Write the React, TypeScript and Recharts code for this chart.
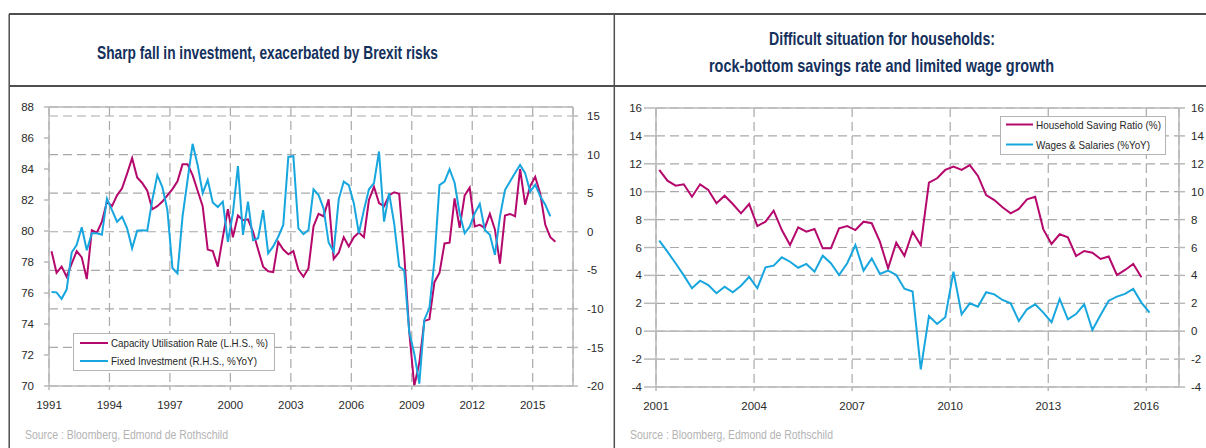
import React from 'react';
import { LineChart, Line, XAxis, YAxis, CartesianGrid, ReferenceLine, Legend } from 'recharts';

// ---------- Data: left chart (quarterly from 1991 Q1) ----------
const capacityUtilisation = [
  78.7, 77.3, 77.7, 77.05, 77.9, 78.7, 78.3, 76.9, 80.05, 79.9, 80.6, 81.9, 81.6, 82.3, 82.75, 83.7,
  84.7, 83.45, 83.1, 82.6, 81.4, 81.6, 81.9, 82.3, 82.7, 83.2, 84.3, 84.3, 83.6, 82.6, 81.6, 78.8,
  78.7, 77.7, 79.6, 81.4, 79.6, 81.0, 80.7, 80.75, 79.95, 78.8, 77.7, 77.4, 77.35, 79.3, 78.8, 78.5,
  78.7, 77.5, 77.05, 77.6, 80.3, 81.1, 80.95, 82.05, 78.2, 78.6, 79.6, 79.0, 79.6, 79.9, 79.6, 82.0,
  82.85, 81.8, 81.6, 82.3, 82.5, 82.4, 78.5, 73.5, 70.0, 71.5, 74.2, 74.3, 76.7, 77.3, 79.2, 79.25,
  82.1, 80.2, 82.3, 82.8, 80.3, 80.4, 80.2, 81.1, 80.1, 77.9, 81.0, 81.1, 80.95, 84.0, 81.7, 82.9,
  83.5, 82.4, 80.4, 79.6, 79.3,
];
const fixedInvestment = [
  -7.8, -7.86, -8.7, -7.5, -2.7, -1.7, 0.57, -2.4, -0.2, -0.2, -0.4, 4.3, 2.8, 1.3, 1.95, 0.44,
  -2.15, 0.13, 0.2, 0.13, 4.1, 7.35, 5.8, 2.8, -4.7, -5.4, 1.95, 6.7, 11.4, 8.65, 5.0, 6.7,
  3.8, 3.2, 3.9, -1.3, 2.4, 8.5, -0.4, 3.9, -1.1, -0.85, 2.8, -2.8, -1.9, -0.65, 0.87, 9.7,
  9.8, 0.44, -0.3, 0.22, 5.5, 4.76, 3.0, -1.4, -2.6, 4.2, 6.5, 6.05, 3.7, -0.2, 2.8, 5.5,
  6.3, 10.4, 1.3, 5.0, 1.1, -4.5, -5.0, -13.0, -15.8, -19.7, -11.4, -9.9, -3.7, 6.05, 6.5, 8.1,
  6.35, 2.4, -0.2, 0.65, 2.4, 3.6, 0.22, -0.4, -3.0, 1.95, 5.4, 6.5, 7.6, 8.65, 7.6, 5.2,
  6.1, 4.6, 3.5, 2.0,
];
const leftStartYear = 1991;
const leftXTicks = [1991, 1994, 1997, 2000, 2003, 2006, 2009, 2012, 2015];
const leftYTicks = [70, 72, 74, 76, 78, 80, 82, 84, 86, 88];
const rightYTicks = [-20, -15, -10, -5, 0, 5, 10, 15];

// ---------- Data: right chart (quarterly from 2001 Q1) ----------
const householdSaving = [
  11.56, 10.79, 10.43, 10.53, 9.64, 10.53, 10.12, 9.17, 9.71, 9.12, 8.45, 9.12, 7.54, 7.85, 8.64, 7.25,
  6.18, 7.45, 7.13, 7.33, 5.94, 5.94, 7.38, 7.54, 7.25, 7.85, 7.74, 6.42, 4.51, 6.35, 5.4, 7.13,
  6.18, 10.65, 10.96, 11.56, 11.8, 11.56, 11.91, 11.13, 9.76, 9.4, 8.88, 8.45, 8.76, 9.45, 9.64, 7.3,
  6.25, 6.95, 6.73, 5.39, 5.75, 5.63, 5.18, 5.35, 4.03, 4.39, 4.82, 3.86,
];
const wagesSalaries = [
  6.49, 5.7, 4.87, 4.0, 3.08, 3.62, 3.31, 2.72, 3.19, 2.79, 3.26, 3.9, 3.08, 4.58, 4.7, 5.3,
  4.98, 4.55, 4.82, 4.27, 5.41, 4.87, 4.03, 4.87, 6.18, 4.34, 5.22, 4.1, 4.34, 4.03, 3.05, 2.84,
  -2.73, 1.09, 0.52, 1.0, 4.27, 1.21, 2.0, 1.76, 2.79, 2.64, 2.24, 2.0, 0.73, 1.57, 1.93, 1.33,
  0.64, 2.31, 0.85, 1.23, 1.93, 0.09, 1.16, 2.19, 2.48, 2.67, 3.03, 2.05, 1.33,
];
const rightStartYear = 2001;
const householdXTicks = [2001, 2004, 2007, 2010, 2013, 2016];
const householdYTicks = [-4, -2, 0, 2, 4, 6, 8, 10, 12, 14, 16];

// ---------- Texts ----------
const leftTitle = 'Sharp fall in investment, exacerbated by Brexit risks';
const rightTitle1 = 'Difficult situation for households:';
const rightTitle2 = 'rock-bottom savings rate and limited wage growth';
const sourceText = 'Source : Bloomberg, Edmond de Rothschild';
const capName = 'Capacity Utilisation Rate (L.H.S., %)';
const invName = 'Fixed Investment (R.H.S., %YoY)';
const savName = 'Household Saving Ratio (%)';
const wageName = 'Wages & Salaries (%YoY)';

// ---------- Styles ----------
const FONT = '"Liberation Sans", Arial, sans-serif';
const NARROW = '"Liberation Sans Narrow", "Liberation Sans", Arial, sans-serif';
const NAVY = '#14305c';
const MAGENTA = '#b5086c';
const CYAN = '#17a6de';
const GRID = '#a9a9a9';
const AXIS = '#b9b9b9';
const FRAME = '#4f4f4f';
const TICK_FONT = { fill: '#2a2a2a', fontSize: 11.5, fontFamily: FONT };

const leftRows = capacityUtilisation.map((v, i) => ({
  t: leftStartYear + 0.125 + i / 4,
  cap: v,
  inv: fixedInvestment[i],
}));
const rightLen = Math.max(householdSaving.length, wagesSalaries.length);
const rightRows = Array.from({ length: rightLen }, (_, i) => ({
  t: rightStartYear + 0.1 + i / 4,
  sav: householdSaving[i],
  wag: wagesSalaries[i],
}));

const makeLegend = (w: number, h: number, rowYs: number[], lineX: [number, number], textX: number, textWidths: number[], fontSize: number) =>
  (props: any) => {
    const payload = props.payload || [];
    return (
      <svg width={w + 60} height={h} style={{ display: 'block', overflow: 'visible' }}>
        <rect x={0.5} y={0.5} width={w - 1} height={h - 1} fill="#fff" stroke="#b4b4b4" strokeWidth={1} />
        {payload.map((p: any, i: number) => (
          <g key={i}>
            <line x1={lineX[0]} x2={lineX[1]} y1={rowYs[i]} y2={rowYs[i]} stroke={p.color} strokeWidth={2} />
            <text
              x={textX}
              y={rowYs[i]}
              dy="0.36em"
              fontFamily={NARROW}
              fontSize={fontSize}
              fill="#262626"
              textLength={textWidths[i]}
              lengthAdjust="spacingAndGlyphs"
            >
              {p.value}
            </text>
          </g>
        ))}
      </svg>
    );
  };

const leftLegend = makeLegend(202, 38, [10, 28], [7, 35], 38, [157, 146], 11.5);
const rightLegend = makeLegend(166, 39, [8.5, 28.5], [6, 33], 36, [125, 114], 11.5);

export default function App() {
  return (
    <div style={{ position: 'absolute', left: 0, top: 0, width: 1206, height: 448, background: '#fff', overflow: 'hidden' }}>
      {/* frame and texts */}
      <svg width={1206} height={448} style={{ position: 'absolute', left: 0, top: 0 }}>
        <line x1={9} x2={1206} y1={14} y2={14} stroke={FRAME} strokeWidth={1.8} />
        <line x1={9} x2={1206} y1={86} y2={86} stroke={FRAME} strokeWidth={1.8} />
        <line x1={9.2} x2={9.2} y1={14} y2={448} stroke={FRAME} strokeWidth={1.5} />
        <line x1={614.3} x2={614.3} y1={14} y2={448} stroke={FRAME} strokeWidth={1.5} />
        <text x={97} y={59} fontFamily={NARROW} fontWeight="bold" fontSize={19} fill={NAVY} textLength={341} lengthAdjust="spacingAndGlyphs">
          {leftTitle}
        </text>
        <text x={769} y={45} fontFamily={NARROW} fontWeight="bold" fontSize={19} fill={NAVY} textLength={226} lengthAdjust="spacingAndGlyphs">
          {rightTitle1}
        </text>
        <text x={709} y={72} fontFamily={NARROW} fontWeight="bold" fontSize={19} fill={NAVY} textLength={345} lengthAdjust="spacingAndGlyphs">
          {rightTitle2}
        </text>
        <text x={25} y={439} fontFamily={NARROW} fontSize={12.5} fill="#b3b3b3" textLength={203} lengthAdjust="spacingAndGlyphs">
          {sourceText}
        </text>
        <text x={630} y={439} fontFamily={NARROW} fontSize={12.5} fill="#b3b3b3" textLength={203} lengthAdjust="spacingAndGlyphs">
          {sourceText}
        </text>
      </svg>

      {/* left chart */}
      <div style={{ position: 'absolute', left: 0, top: 0 }}>
        <LineChart width={614} height={448} data={leftRows} margin={{ top: 107, right: 0, bottom: 32, left: 0 }}>
          <CartesianGrid yAxisId="right" stroke={GRID} strokeDasharray="9 5" strokeWidth={1.2} />
          <XAxis
            dataKey="t"
            type="number"
            domain={[1991, 2017]}
            ticks={leftXTicks}
            height={30}
            tickSize={4}
            tickMargin={11}
            stroke={AXIS}
            strokeWidth={1.5}
            tick={TICK_FONT}
            allowDataOverflow
          />
          <YAxis
            yAxisId="left"
            domain={[70, 88]}
            ticks={leftYTicks}
            width={49}
            tickSize={5}
            tickMargin={10}
            stroke={AXIS}
            strokeWidth={1.5}
            tick={TICK_FONT}
            allowDataOverflow
          />
          <YAxis
            yAxisId="right"
            orientation="right"
            domain={[-20, 16.17]}
            ticks={rightYTicks}
            width={41}
            tickSize={5}
            tickMargin={9}
            stroke={AXIS}
            strokeWidth={1.5}
            tick={TICK_FONT}
            allowDataOverflow
          />
          <ReferenceLine yAxisId="left" y={88} stroke={AXIS} strokeWidth={1.5} />
          <Line yAxisId="left" type="linear" dataKey="cap" name={capName} stroke={MAGENTA} strokeWidth={2} dot={false} isAnimationActive={false} />
          <Line yAxisId="right" type="linear" dataKey="inv" name={invName} stroke={CYAN} strokeWidth={2} dot={false} isAnimationActive={false} />
          <Legend
            layout="vertical"
            align="center"
            verticalAlign="middle"
            content={leftLegend}
            wrapperStyle={{ left: 73, top: 333, width: 262, height: 38 }}
          />
        </LineChart>
      </div>

      {/* right chart */}
      <div style={{ position: 'absolute', left: 614, top: 0 }}>
        <LineChart width={592} height={448} data={rightRows} margin={{ top: 108, right: 0, bottom: 31, left: 0 }}>
          <CartesianGrid yAxisId="left" stroke={GRID} strokeDasharray="9 5" strokeWidth={1.2} />
          <XAxis
            dataKey="t"
            type="number"
            domain={[2001, 2017]}
            ticks={householdXTicks}
            height={30}
            tickSize={4}
            tickMargin={11}
            stroke={AXIS}
            strokeWidth={1.5}
            tick={TICK_FONT}
            allowDataOverflow
          />
          <YAxis
            yAxisId="left"
            domain={[-4, 16]}
            ticks={householdYTicks}
            width={42}
            tickSize={12}
            tickMargin={2}
            stroke={AXIS}
            strokeWidth={1.5}
            tick={TICK_FONT}
            allowDataOverflow
          />
          <YAxis
            yAxisId="right"
            orientation="right"
            domain={[-4, 16]}
            ticks={householdYTicks}
            width={27}
            tickSize={6}
            tickMargin={6}
            stroke={AXIS}
            strokeWidth={1.5}
            tick={TICK_FONT}
            allowDataOverflow
          />
          <ReferenceLine yAxisId="left" y={16} stroke={AXIS} strokeWidth={1.5} />
          <ReferenceLine yAxisId="left" y={0} stroke={AXIS} strokeWidth={1.5} />
          <Line yAxisId="left" type="linear" dataKey="sav" name={savName} stroke={MAGENTA} strokeWidth={2} dot={false} isAnimationActive={false} />
          <Line yAxisId="left" type="linear" dataKey="wag" name={wageName} stroke={CYAN} strokeWidth={2} dot={false} isAnimationActive={false} />
          <Legend
            layout="vertical"
            align="center"
            verticalAlign="middle"
            content={rightLegend}
            wrapperStyle={{ left: 386, top: 116, width: 226, height: 39 }}
          />
        </LineChart>
      </div>
    </div>
  );
}
